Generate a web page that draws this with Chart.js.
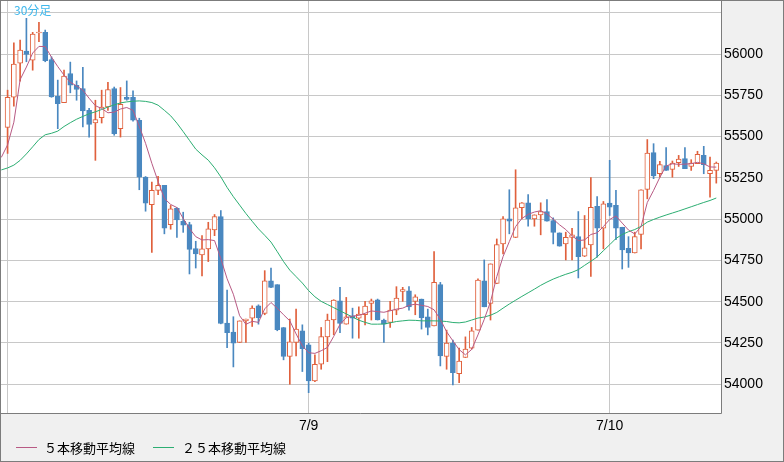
<!DOCTYPE html>
<html>
<head>
<meta charset="utf-8">
<script src="https://cdn.jsdelivr.net/npm/chart.js@4.4.0/dist/chart.umd.min.js"></script>
<style>
html, body { margin: 0; padding: 0; background: #f0f0f0; }
#wrap { position: relative; width: 784px; height: 462px; }
#chart { position: absolute; left: 0; top: 0; }
#tf { position: absolute; left: 14px; top: 1px; font: 12px "Noto Sans CJK JP", sans-serif; color: #40b8ec; }
.lg-line { position: absolute; height: 0; border-top: 1px solid; }
.lg-text { position: absolute; top: 438px; font: 13px "Noto Sans CJK JP", sans-serif; color: #000; white-space: nowrap; }
</style>
</head>
<body>
<div id="wrap">
  <canvas id="chart" width="784" height="462"></canvas>
  <div id="tf">30分足</div>
  <div class="lg-line" style="left:16px; top:447px; width:21px; border-color:#b85a84"></div>
  <div class="lg-text" style="left:44px">５本移動平均線</div>
  <div class="lg-line" style="left:153px; top:447px; width:21px; border-color:#2cae72"></div>
  <div class="lg-text" style="left:182px">２５本移動平均線</div>
</div>
<script>
// 30-minute candles, index 0 = 7/8 00:00, 48 per day
const opens = [55556,55738,55945,56018,55963,56127,56131,55967,55744,55706,
  55882,55811,55791,55659,55582,55615,55679,55791,55548,55738,
  55737,55599,55254,55087,55174,55204,54967,55065,54987,54967,
  54822,54783,54820,54935,55016,54370,54316,54253,54384,54401,
  54475,54429,54627,54603,54344,54168,54253,54324,54239,54020,
  54121,54287,54389,54506,54364,54415,54401,54421,54489,54512,
  54389,54374,54449,54562,54566,54502,54516,54409,54354,54603,
  54168,54249,54064,54162,54219,54328,54627,54489,54611,54850,
  55002,54890,55069,55099,55002,55026,55046,54992,54917,54850,
  54890,54894,54775,54844,55077,54945,55097,55083,54951,54823,
  54795,54907,55180,55403,55275,55325,55301,55342,55366,55320,
  55336,55386,55275,55295];
const highs = [55781,56067,56085,56216,56131,56192,56145,55983,55842,55902,
  55951,55837,55919,55671,55720,55781,55828,55800,55797,55837,
  55777,55611,55258,55224,55259,55204,55083,55070,55042,54981,
  54866,54900,54981,55028,55052,54571,54409,54384,54395,54475,
  54481,54688,54704,54603,54344,54395,54455,54360,54249,54178,
  54344,54425,54512,54587,54526,54461,54469,54502,54516,54516,
  54395,54502,54591,54587,54591,54542,54516,54455,54803,54617,
  54328,54267,54219,54287,54344,54638,54753,54729,54880,55016,
  55178,55299,55100,55149,55026,55099,55119,55008,54917,54921,
  54945,55046,55022,55251,55137,55107,55356,55174,54951,54894,
  54921,55178,55482,55457,55350,55433,55352,55386,55433,55360,
  55411,55441,55376,55346];
const lows = [55398,55684,55836,55953,55902,56074,55953,55738,55548,55706,
  55765,55720,55558,55497,55356,55582,55659,55508,55497,55720,
  55593,55178,55048,54799,55148,54911,54939,54890,54920,54668,
  54704,54656,54743,54900,54366,54222,54105,54253,54253,54350,
  54364,54421,54585,54324,54148,54000,54172,54077,53949,54016,
  54091,54137,54300,54313,54364,54279,54279,54360,54389,54389,
  54253,54344,54421,54502,54449,54421,54334,54299,54354,54111,
  54091,53996,54010,54162,54213,54328,54469,54389,54609,54789,
  54911,54888,55002,54957,54957,54905,54987,54850,54836,54753,
  54753,54644,54773,54653,54769,54820,55022,54876,54698,54708,
  54795,54820,55123,55245,55254,55295,55254,55319,55306,55295,
  55336,55275,55133,55218];
const closes = [55738,55939,56024,55998,56121,56133,55959,55740,55700,55866,
  55811,55785,55655,55574,55603,55679,55785,55518,55696,55725,
  55599,55254,55097,55174,55204,54945,55063,54996,54963,54817,
  54789,54820,54941,55016,54368,54313,54249,54384,54395,54461,
  54404,54627,54587,54330,54168,54257,54334,54216,54020,54121,
  54289,54389,54510,54368,54409,54401,54425,54474,54506,54389,
  54364,54449,54522,54573,54469,54530,54404,54344,54617,54172,
  54249,54070,54141,54213,54324,54631,54469,54729,54846,55002,
  54987,55069,55099,55002,55026,55046,54987,54920,54836,54890,
  54905,54773,54826,55072,54945,55093,55072,54945,54814,54795,
  54894,55178,55400,55261,55330,55295,55339,55364,55306,55339,
  55392,55330,55295,55339];

// moving averages, first value belongs to the candle before index 0
const ma5 = [55374,55450,55587,55845,55921,56006,56046,56045,55981,55924,55872,
  55829,55807,55781,55732,55687,55670,55644,55648,55667,55676,
  55659,55562,55459,55338,55228,55125,55089,55070,55004,54943,
  54894,54874,54876,54870,54761,54639,54545,54415,54363,54381,
  54375,54457,54495,54460,54421,54384,54305,54233,54191,54187,
  54203,54223,54290,54363,54403,54413,54417,54430,54444,54440,
  54436,54445,54455,54461,54478,54485,54478,54471,54451,54393,
  54318,54263,54210,54178,54211,54299,54393,54500,54652,54773,
  54864,54955,55004,55029,55043,55051,55032,55000,54966,54937,
  54899,54870,54874,54907,54917,54955,54998,55019,54976,54934,
  54910,54955,55101,55174,55253,55322,55335,55332,55333,55336,
  55344,55335,55316,55315];
const ma25 = [55298,55310,55327,55356,55395,55438,55482,55511,55520,55533,55561,
  55584,55605,55622,55638,55650,55664,55679,55692,55704,55710,
  55714,55716,55713,55706,55690,55659,55626,55581,55530,55477,
  55424,55389,55357,55311,55256,55192,55136,55085,55034,54987,
  54941,54902,54861,54803,54743,54691,54652,54613,54567,54530,
  54502,54483,54464,54445,54426,54407,54388,54375,54364,54364,
  54365,54372,54380,54384,54388,54387,54384,54384,54384,54383,
  54380,54374,54372,54377,54389,54401,54407,54418,54435,54461,
  54486,54509,54532,54554,54576,54599,54619,54637,54652,54666,
  54678,54694,54720,54745,54771,54809,54845,54883,54907,54924,
  54937,54956,54982,54998,55012,55025,55037,55049,55062,55075,
  55088,55101,55113,55128];

const dayTicks = [0, 48, 96];
const dayLabels = ['', '7/9', '7/10'];
const priceTicks = [54000, 54250, 54500, 54750, 55000, 55250, 55500, 55750, 56000, 56250];

const UP = '#e0603c';
const DOWN = '#4a88c0';

const isUp = opens.map((o, i) => closes[i] >= o);

// background + frame
const frame = {
  id: 'frame',
  beforeDraw(chart) {
    const { ctx, chartArea: a } = chart;
    ctx.save();
    ctx.fillStyle = '#f0f0f0';
    ctx.fillRect(0, 0, chart.width, chart.height);
    ctx.fillStyle = '#ffffff';
    ctx.fillRect(a.left, a.top, a.right - a.left, a.bottom - a.top);
    ctx.restore();
  },
  afterDraw(chart) {
    const { ctx, chartArea: a } = chart;
    ctx.save();
    ctx.strokeStyle = '#7c7c7c';
    ctx.lineWidth = 1;
    ctx.strokeRect(0.5, 0.5, chart.width - 1, chart.height - 1);
    ctx.beginPath();
    ctx.moveTo(Math.round(a.right) + 0.5, 0);
    ctx.lineTo(Math.round(a.right) + 0.5, Math.round(a.bottom) + 0.5);
    ctx.lineTo(0, Math.round(a.bottom) + 0.5);
    ctx.stroke();
    ctx.restore();
  }
};

new Chart(document.getElementById('chart'), {
  type: 'bar',
  data: {
    datasets: [
      {
        type: 'line',
        label: '５本移動平均線',
        data: ma5.map((v, k) => ({ x: k - 1, y: v })),
        borderColor: '#b85a84',
        borderWidth: 1,
        pointRadius: 0,
        tension: 0,
        order: 0
      },
      {
        type: 'line',
        label: '２５本移動平均線',
        data: ma25.map((v, k) => ({ x: k - 1, y: v })),
        borderColor: '#2cae72',
        borderWidth: 1,
        pointRadius: 0,
        tension: 0,
        order: 0
      },
      {
        label: 'body',
        data: opens.map((o, i) => ({ x: i, y: [o, closes[i]] })),
        backgroundColor: isUp.map(u => u ? '#ffffff' : DOWN),
        borderColor: isUp.map(u => u ? UP : DOWN),
        borderWidth: 1,
        borderSkipped: false,
        barThickness: 5,
        grouped: false,
        order: 1
      },
      {
        label: 'wick',
        data: lows.map((l, i) => ({ x: i, y: [l, highs[i]] })),
        backgroundColor: isUp.map(u => u ? UP : DOWN),
        borderWidth: 0,
        barThickness: 1,
        grouped: false,
        order: 2
      }
    ]
  },
  options: {
    responsive: false,
    animation: false,
    events: [],
    layout: { padding: { left: 1, top: 1, right: 0, bottom: 0 } },
    plugins: { legend: { display: false }, tooltip: { enabled: false } },
    scales: {
      x: {
        type: 'linear',
        min: -1.05,
        max: 113.75,
        offset: false,
        afterBuildTicks: s => { s.ticks = dayTicks.map(v => ({ value: v })); },
        afterFit: s => { s.height = 49; s.paddingLeft = 0; s.paddingRight = 0; },
        grid: { color: '#c8c8c8', drawTicks: false, offset: false },
        border: { display: false },
        ticks: {
          padding: 5,
          maxRotation: 0,
          autoSkip: false,
          color: '#000',
          font: { family: 'Liberation Sans', size: 14 },
          callback: v => dayLabels[dayTicks.indexOf(v)] || ''
        }
      },
      y: {
        position: 'right',
        min: 53826,
        max: 56321,
        afterBuildTicks: s => { s.ticks = priceTicks.map(v => ({ value: v })); },
        afterFit: s => { s.width = 63; s.paddingTop = 0; s.paddingBottom = 0; },
        grid: { color: '#c8c8c8', drawTicks: false },
        border: { display: false },
        ticks: {
          padding: 3,
          color: '#000',
          font: { family: 'Liberation Sans', size: 14 },
          callback: v => v <= 56000 ? String(v) : ''
        }
      }
    }
  },
  plugins: [frame]
});
</script>
</body>
</html>
